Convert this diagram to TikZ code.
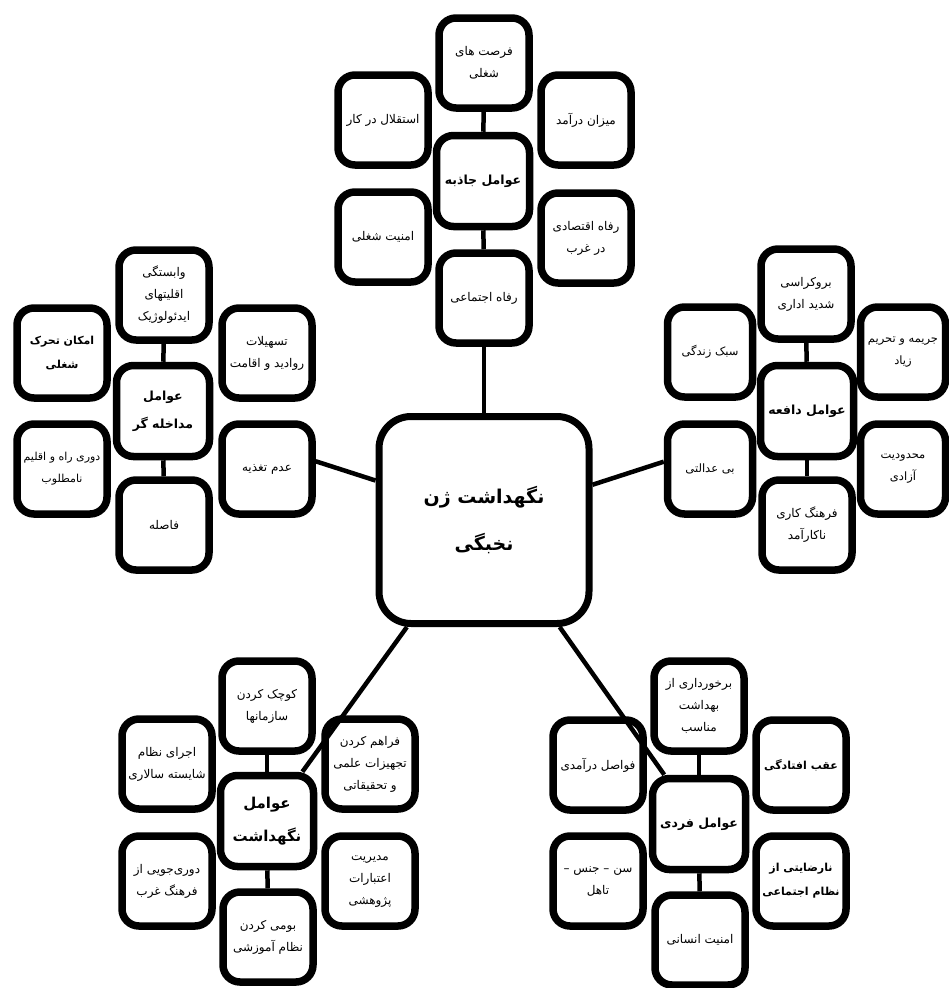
\documentclass[tikz,border=0pt]{standalone}
\usepackage{fontspec}
\newfontfamily\arabicfont[Script=Arabic]{DejaVu Sans}
\TeXXeTstate=1
\newcommand\fa[1]{\beginR #1\endR}
\tikzset{
  box/.style={draw, line width=7.5pt, rounded corners=17pt, fill=white,
    minimum width=90pt, minimum height=90pt, inner sep=1pt, align=center,
    font=\arabicfont\fontsize{12}{22}\selectfont},
  narrowbox/.style={box, minimum width=85pt, font=\arabicfont\fontsize{11.5}{22}\selectfont},
  boldbox/.style={box, font=\arabicfont\bfseries\fontsize{11}{24}\selectfont},
  smallbox/.style={box, font=\arabicfont\fontsize{11}{22}\selectfont},
  hub/.style={box, minimum width=93pt, minimum height=91pt,
    font=\arabicfont\bfseries\fontsize{12.5}{28}\selectfont},
  bighub/.style={hub, font=\arabicfont\bfseries\fontsize{15}{33}\selectfont},
  mainbox/.style={draw, line width=7pt, rounded corners=32pt, fill=white,
    minimum width=210pt, minimum height=207pt, align=center,
    font=\arabicfont\bfseries\fontsize{19}{47}\selectfont},
  link/.style={line width=4.5pt},
}
\begin{document}
\begin{tikzpicture}[x=1pt,y=-1pt]
\useasboundingbox (0,0) rectangle (949,988);

% main
\node[mainbox] (M) at (484,520) {\fa{نگهداشت ژن}\\\fa{نخبگی}};

% top cluster
\node[hub] (A0) at (483,181) {\fa{عوامل جاذبه}};
\node[box] (A1) at (484,63) {\fa{فرصت های}\\\fa{شغلی}};
\node[box] (A2) at (383,120) {\fa{استقلال در کار}};
\node[box] (A3) at (586,120) {\fa{میزان درآمد}};
\node[box] (A4) at (383,237) {\fa{امنیت شغلی}};
\node[box] (A5) at (586,238) {\fa{رفاه اقتصادی}\\\fa{در غرب}};
\node[box] (A6) at (484,298) {\fa{رفاه اجتماعی}};

% left cluster
\node[hub] (B0) at (163,411) {\fa{عوامل}\\\fa{مداخله گر}};
\node[box] (B1) at (164,295) {\fa{وابستگی}\\\fa{اقلیتهای}\\\fa{ایدئولوژیک}};
\node[boldbox] (B2) at (62,353) {\fa{امکان تحرک}\\\fa{شغلی}};
\node[box] (B3) at (267,353) {\fa{تسهیلات}\\\fa{روادید و اقامت}};
\node[smallbox] (B4) at (62,469) {\fa{دوری راه و اقلیم}\\\fa{نامطلوب}};
\node[box] (B5) at (267,469) {\fa{عدم تغذیه}};
\node[box] (B6) at (164,525) {\fa{فاصله}};

% right cluster
\node[hub] (C0) at (807,411) {\fa{عوامل دافعه}};
\node[box] (C1) at (806,294) {\fa{بروکراسی}\\\fa{شدید اداری}};
\node[narrowbox] (C2) at (710,352) {\fa{سبک زندگی}};
\node[narrowbox] (C3) at (903,352) {\fa{جریمه و تحریم}\\\fa{زیاد}};
\node[narrowbox] (C4) at (710,469) {\fa{بی عدالتی}};
\node[narrowbox] (C5) at (903,469) {\fa{محدودیت}\\\fa{آزادی}};
\node[box] (C6) at (807,525) {\fa{فرهنگ کاری}\\\fa{ناکارآمد}};

% bottom-left cluster
\node[bighub] (D0) at (267,821) {\fa{عوامل}\\\fa{نگهداشت}};
\node[box] (D1) at (267,706) {\fa{کوچک کردن}\\\fa{سازمانها}};
\node[box] (D2) at (167,764) {\fa{اجرای نظام}\\\fa{شایسته سالاری}};
\node[box] (D3) at (370,764) {\fa{فراهم کردن}\\\fa{تجهیزات علمی}\\\fa{و تحقیقاتی}};
\node[box] (D4) at (167,881) {\fa{دوری‌جویی از}\\\fa{فرهنگ غرب}};
\node[box] (D5) at (370,881) {\fa{مدیریت}\\\fa{اعتبارات}\\\fa{پژوهشی}};
\node[box] (D6) at (268,937) {\fa{بومی کردن}\\\fa{نظام آموزشی}};

% bottom-right cluster
\node[hub] (E0) at (699,824) {\fa{عوامل فردی}};
\node[box] (E1) at (699,706) {\fa{برخورداری از}\\\fa{بهداشت}\\\fa{مناسب}};
\node[box] (E2) at (598,765) {\fa{فواصل درآمدی}};
\node[boldbox] (E3) at (801,765) {\fa{عقب افتادگی}};
\node[box] (E4) at (598,881) {\fa{سن – جنس –}\\\fa{تاهل}};
\node[boldbox] (E5) at (801,881) {\fa{نارضایتی از}\\\fa{نظام اجتماعی}};
\node[box] (E6) at (700,940) {\fa{امنیت انسانی}};

% connectors inside clusters
\foreach \c in {A,B,C,D,E} {
  \draw[link] (\c1) -- (\c0);
  \draw[link] (\c0) -- (\c6);
}
% connectors to main
\draw[link] (A6) -- (M);
\draw[link] (M.160) -- (B5.9);
\draw[link] (M.18) -- (C4.171);
\draw[link] (M) -- (D0);
\draw[link] (M) -- (E0);
\end{tikzpicture}
\end{document}
